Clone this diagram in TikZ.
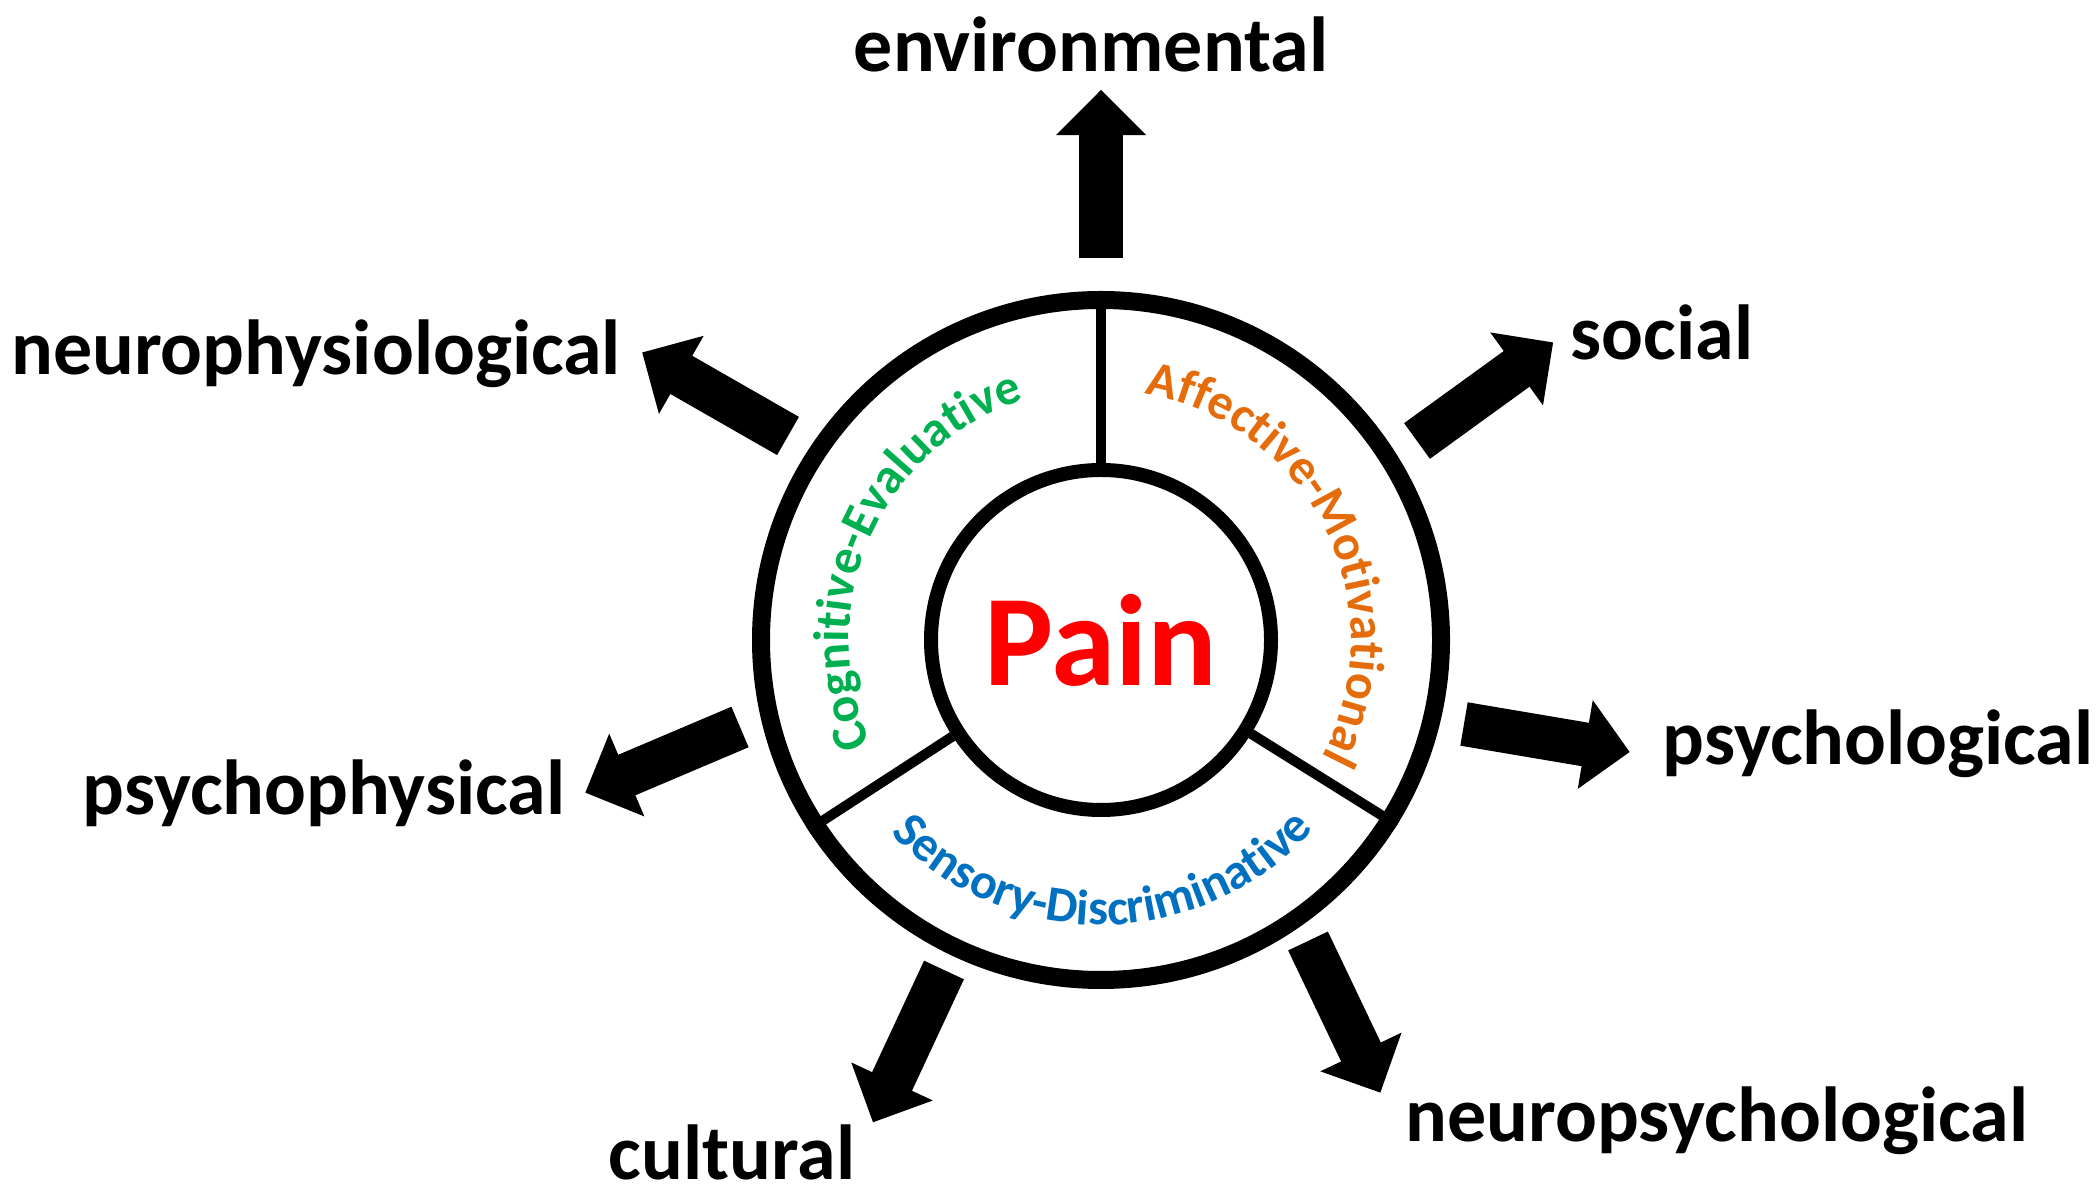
\documentclass[tikz,border=0pt]{standalone}
\usepackage{fontspec}
\setmainfont{Carlito}
\usetikzlibrary{calc,decorations.text}
\definecolor{cogcol}{HTML}{00B050}
\definecolor{affcol}{HTML}{E46C0A}
\definecolor{sencol}{HTML}{0070C0}
\definecolor{paincol}{HTML}{FF0000}
\newcommand\arcfont{\fontsize{50}{60}\selectfont\bfseries}
\newcommand\bigarrow[2]{%
  \draw[line width=44pt] (#1) -- ($(#1)!0.74!(#2)$);
  \coordinate (h) at ($(#1)!0.732!(#2)$);
  \fill ($(h)!45pt!90:(#2)$) -- (#2) -- ($(h)!45pt!-90:(#2)$) -- cycle;}
\begin{document}
\begin{tikzpicture}[x=1pt,y=1pt,
  lbl/.style={font=\fontsize{78}{90}\selectfont\bfseries, anchor=base, inner sep=0pt},
  ring/.style={circle, draw=black, inner sep=0pt},
  divider/.style={draw=black, line width=10pt}]
\useasboundingbox (0,0) rectangle (2100,1198);
\coordinate (C) at (1101,558);
% rings
\node[ring, line width=18pt, minimum size=680pt] (outer) at (C) {};
\node[ring, line width=14pt, minimum size=340pt, text=paincol,
      font=\fontsize{130}{150}\selectfont\bfseries] (pain) at (C) {Pain};
% dividers
\draw[divider] (pain.90) -- (outer.90);
\draw[divider] (pain.213) -- (outer.213);
\draw[divider] (pain.328) -- (outer.328);
% arc texts
\begin{scope}[shift={(C)}]
\path[decorate, decoration={text along path, text align=center,
  text={|\arcfont\color{cogcol}|Cognitive-Evaluative}}]
  (226:252) arc[start angle=226, end angle=86, radius=252];
\path[decorate, decoration={text along path, text align=center,
  text={|\arcfont\color{affcol}|Affective-Motivational}}]
  (96:250) arc[start angle=96, end angle=-44, radius=250];
\path[decorate, decoration={text along path, text align=center,
  text={|\arcfont\color{sencol}|Sensory-Discriminative}}]
  (200:285) arc[start angle=200, end angle=341, radius=285];
\end{scope}
% labels
\node[lbl] (env) at (1091,1126) {environmental};
\node[lbl] (nphys) at (316,823) {neurophysiological};
\node[lbl] (soc) at (1662,838) {social};
\node[lbl] (pphys) at (324,383) {psychophysical};
\node[lbl] (psy) at (1878,433) {psychological};
\node[lbl] (cult) at (732,18) {cultural};
\node[lbl] (npsy) at (1717,56) {neuropsychological};
% arrow coordinates
\coordinate (s1) at (1101,940); \coordinate (t1) at ($(s1)+(90:168)$);
\coordinate (s2) at (1417,757); \coordinate (t2) at ($(s2)+(35.9:168)$);
\coordinate (s3) at (1464,474); \coordinate (t3) at ($(s3)+(-9.6:168)$);
\coordinate (s4) at (1308,257); \coordinate (t4) at ($(s4)+(-64.5:168)$);
\coordinate (s5) at (944,228);  \coordinate (t5) at ($(s5)+(245:168)$);
\coordinate (s6) at (740,471);  \coordinate (t6) at ($(s6)+(203:168)$);
\coordinate (s7) at (788,762);  \coordinate (t7) at ($(s7)+(150.2:168)$);
\bigarrow{s1}{t1}
\bigarrow{s2}{t2}
\bigarrow{s3}{t3}
\bigarrow{s4}{t4}
\bigarrow{s5}{t5}
\bigarrow{s6}{t6}
\bigarrow{s7}{t7}
\end{tikzpicture}
\end{document}
